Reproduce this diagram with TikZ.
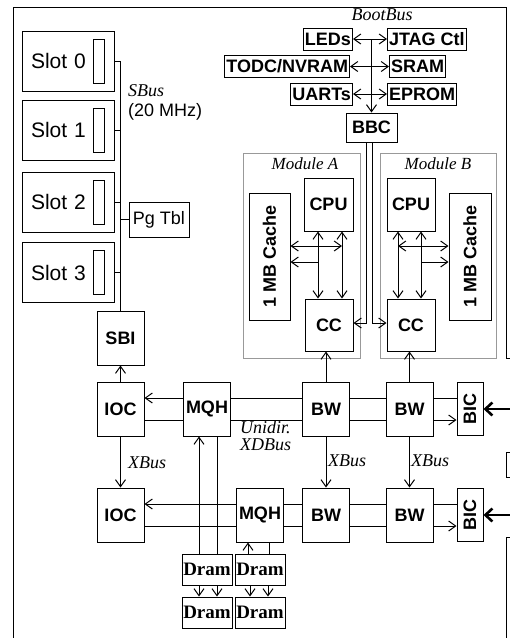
\documentclass[tikz,border=0pt]{standalone}
\usepackage{fontspec}
\setmainfont{Liberation Serif}
\setsansfont{Liberation Sans}
\usetikzlibrary{arrows.meta, positioning, calc, backgrounds}

\tikzset{
  wire/.style={line width=1pt},
  unit/.style={draw, fill=white, line width=1pt, inner sep=0pt, minimum width=47pt, minimum height=54pt,
    font=\sffamily\bfseries\fontsize{18}{20}\selectfont},
  slotbox/.style={draw, line width=1pt, minimum width=92pt, minimum height=60pt, text width=74pt,
    inner xsep=9pt, align=left, font=\sffamily\fontsize{21}{24}\selectfont},
  card/.style={draw, line width=1pt, minimum width=11pt, minimum height=44pt, inner sep=0pt},
  bootdev/.style={draw, line width=1pt, inner xsep=1.5pt, inner ysep=0pt, minimum height=22pt,
    font=\sffamily\bfseries\fontsize{18}{20}\selectfont},
  dram/.style={draw, fill=white, line width=1pt, minimum width=50pt, minimum height=31pt, inner sep=0pt,
    font=\bfseries\fontsize{19}{21}\selectfont},
  module/.style={draw=black!40, line width=0.9pt, inner sep=0pt},
  buslabel/.style={inner sep=0pt, font=\itshape\fontsize{18}{18}\selectfont},
  bigwire/.style={line width=2.6pt, {Straight Barb[length=7pt,width=13pt]}-{Straight Barb[length=7pt,width=13pt]}}
}

\begin{document}
\begin{tikzpicture}[x=1pt, y=-1pt, >={Straight Barb[length=7pt,width=10pt]}]
  \useasboundingbox (0,0) rectangle (510,638);
  \clip (0,0) rectangle (510,638);

  % frame and neighbouring boxes
  \draw[wire] (13,645) -- (13,7) -- (506,7) -- (506,358) -- (520,358);
  \draw[wire] (520,452) -- (506,452) -- (506,477) -- (520,477);
  \draw[wire] (520,537) -- (506,537) -- (506,645);

  % modules
  \node[module, minimum width=117pt, minimum height=205pt] (moda) at (301.5,255.5) {};
  \node[module, minimum width=116pt, minimum height=205pt] (modb) at (438,255.5) {};
  \node[buslabel, font=\itshape\fontsize{17}{17}\selectfont] (modalabel) at (305,164) {Module A};
  \node[buslabel, font=\itshape\fontsize{17}{17}\selectfont] (modblabel) at (438,164) {Module B};

  % SBus side
  \foreach \i/\y in {0/61, 1/130, 2/202, 3/272.5} {
    \node[slotbox] (slot\i) at (68,\y) {Slot \i};
    \node[card] (card\i) at (98.5,\y) {};
  }
  \node[draw, line width=1pt, minimum width=60pt, minimum height=35pt, inner sep=0pt,
    font=\sffamily\fontsize{18}{20}\selectfont] (pgtbl) at (159,219.5) {Pg Tbl};
  \node[inner sep=0pt, align=left, anchor=north west, font=\fontsize{18}{20}\selectfont] (sbuslabel) at (128,84)
    {\textit{SBus}\\\textsf{(20 MHz)}};

  \node[unit] (sbi)  at (120.5,338) {SBI};
  \node[unit] (ioc1) at (120.5,409) {IOC};
  \node[unit] (ioc2) at (120.5,515) {IOC};
  \node[unit] (mqh1) at (207,409) {MQH};
  \node[unit] (mqh2) at (260,515) {MQH};
  \node[unit] (bw1)  at (326,409) {BW};
  \node[unit] (bw2)  at (409.5,409) {BW};
  \node[unit] (bw3)  at (326,515) {BW};
  \node[unit] (bw4)  at (409.5,515) {BW};
  \node[unit, minimum width=26pt, minimum height=53pt] (bic1) at (470,409) {\rotatebox{90}{BIC}};
  \node[unit, minimum width=26pt, minimum height=53pt] (bic2) at (470,515) {\rotatebox{90}{BIC}};

  % processor modules
  \node[unit, minimum width=49pt, minimum height=53pt] (cpua) at (328.5,204.5) {CPU};
  \node[unit, minimum width=48pt, minimum height=53pt] (cpub) at (411,204.5) {CPU};
  \node[unit, minimum width=48pt, minimum height=52pt] (cca)  at (329,325) {CC};
  \node[unit, minimum width=48pt, minimum height=52pt] (ccb)  at (411,325) {CC};
  \node[unit, minimum width=41pt, minimum height=127pt] (cachea) at (269.5,256.5) {\rotatebox{90}{1 MB Cache}};
  \node[unit, minimum width=42pt, minimum height=127pt] (cacheb) at (470,256.5) {\rotatebox{90}{1 MB Cache}};

  % boot bus
  \node[buslabel] (bootlabel) at (382,15) {BootBus};
  \node[bootdev, anchor=east] (leds)  at (353,39) {LEDs};
  \node[bootdev, anchor=east] (todc)  at (350,66.5) {TODC/NVRAM};
  \node[bootdev, anchor=east] (uarts) at (353,94) {UARTs};
  \node[bootdev, anchor=west] (jtag)  at (387,39) {JTAG Ctl};
  \node[bootdev, anchor=west] (sram)  at (389,66.5) {SRAM};
  \node[bootdev, anchor=west] (eprom) at (387,94) {EPROM};
  \node[unit, minimum width=51pt, minimum height=29pt] (bbc) at (371.5,127.5) {BBC};

  % memory
  \node[dram] (dram1) at (207,569.5) {Dram};
  \node[dram] (dram2) at (260,569.5) {Dram};
  \node[dram] (dram3) at (207,612.5) {Dram};
  \node[dram] (dram4) at (260,612.5) {Dram};

  % SBus wiring
  \draw[wire] (sbi.north |- slot0.east) -- (sbi.north);
  \foreach \i in {0,...,3}
    \draw[wire] (slot\i.east) -- (slot\i.east -| sbi.north);
  \draw[wire] (pgtbl.west) -- (pgtbl.west -| sbi.north);
  \draw[wire,->] (ioc1.north) -- (sbi.south);

  % XDBus rings
  \foreach \r/\a/\b/\c/\d/\e in {1/ioc1/mqh1/bw1/bw2/bic1, 2/ioc2/mqh2/bw3/bw4/bic2} {
    \draw[wire] ([yshift=11pt]\e.west) -- ([yshift=11pt]\d.east);
    \draw[wire] ([yshift=11pt]\d.west) -- ([yshift=11pt]\c.east);
    \draw[wire] ([yshift=11pt]\c.west) -- ([yshift=11pt]\b.east);
    \draw[wire,->] ([yshift=11pt]\b.west) -- ([yshift=11pt]\a.east);
    \draw[wire] ([yshift=-11pt]\a.east) -- ([yshift=-11pt]\b.west);
    \draw[wire] ([yshift=-11pt]\b.east) -- ([yshift=-11pt]\c.west);
    \draw[wire] ([yshift=-11pt]\c.east) -- ([yshift=-11pt]\d.west);
    \draw[wire,->] ([yshift=-11pt]\d.east) -- ([yshift=-11pt]\e.west);
  }
  \node[buslabel, anchor=north west, align=left, font=\itshape\fontsize{18}{17}\selectfont] (xdlabel) at (240,421) {Unidir.\\XDBus};

  % XBus links
  \draw[wire,->] (ioc1.south) -- (ioc2.north);
  \draw[wire,->] (bw1.south) -- (bw3.north);
  \draw[wire,->] (bw2.south) -- (bw4.north);
  \node[buslabel, anchor=west] (xbus1) at (128,463) {XBus};
  \node[buslabel, anchor=west] (xbus2) at (328,461) {XBus};
  \node[buslabel, anchor=west] (xbus3) at (411,461) {XBus};

  % BIC off-board links
  \coordinate (ext1) at (522,409);
  \coordinate (ext2) at (522,515);
  \draw[bigwire] (bic1.east) -- (ext1);
  \draw[bigwire] (bic2.east) -- (ext2);

  % BW to CC
  \draw[wire,->] (bw1.north) -- (bw1.north |- cca.south);
  \draw[wire,->] (bw2.north) -- (bw2.north |- ccb.south);

  % module A internal buses
  \coordinate (abusl) at ([xshift=-10.5pt]cpua.south);
  \coordinate (abusr) at ([xshift=13.5pt]cpua.south);
  \draw[wire,<->] (abusl) -- (abusl |- cca.north);
  \draw[wire,<->] (abusr) -- (abusr |- cca.north);
  \draw[wire,<->] ([yshift=10.5pt]cachea.east) -- ([yshift=10.5pt]cachea.east -| abusr);
  \draw[wire,->] ([yshift=-5.5pt]cachea.east -| abusl) -- ([yshift=-5.5pt]cachea.east);

  % module B internal buses
  \coordinate (bbusl) at ([xshift=-13pt]cpub.south);
  \coordinate (bbusr) at ([xshift=10pt]cpub.south);
  \draw[wire,<->] (bbusl) -- (bbusl |- ccb.north);
  \draw[wire,<->] (bbusr) -- (bbusr |- ccb.north);
  \draw[wire,<->] ([yshift=10.5pt]cacheb.west -| bbusl) -- ([yshift=10.5pt]cacheb.west);
  \draw[wire,->] ([yshift=-5.5pt]cacheb.west -| bbusr) -- ([yshift=-5.5pt]cacheb.west);

  % boot bus wiring
  \draw[wire,->] (leds.east -| bbc.north) -- (bbc.north);
  \draw[wire,<->] (leds.east) -- (jtag.west);
  \draw[wire,<->] (todc.east) -- (sram.west);
  \draw[wire,<->] (uarts.east) -- (eprom.west);
  \draw[wire,->] ([xshift=-5.5pt]bbc.south) |- ([yshift=2pt]cca.east);
  \draw[wire,->] ([xshift=0.5pt]bbc.south) |- ([yshift=2pt]ccb.west);

  % dram wiring
  \draw[wire,->] ([xshift=-8pt]dram1.north) -- ([xshift=-8pt]dram1.north |- mqh1.south);
  \draw[wire] ([xshift=10pt]mqh1.south) -- ([xshift=10pt]mqh1.south |- dram1.north);
  \draw[wire,->] ([xshift=-12pt]dram2.north) -- ([xshift=-12pt]dram2.north |- mqh2.south);
  \draw[wire] ([xshift=9pt]mqh2.south) -- ([xshift=9pt]mqh2.south |- dram2.north);
  \draw[wire,->] ([xshift=-8pt]dram1.south) -- ([xshift=-8pt]dram3.north);
  \draw[wire,->] ([xshift=10pt]dram1.south) -- ([xshift=10pt]dram3.north);
  \draw[wire,->] ([xshift=-10pt]dram2.south) -- ([xshift=-10pt]dram4.north);
  \draw[wire,->] ([xshift=8pt]dram2.south) -- ([xshift=8pt]dram4.north);
\end{tikzpicture}
\end{document}
